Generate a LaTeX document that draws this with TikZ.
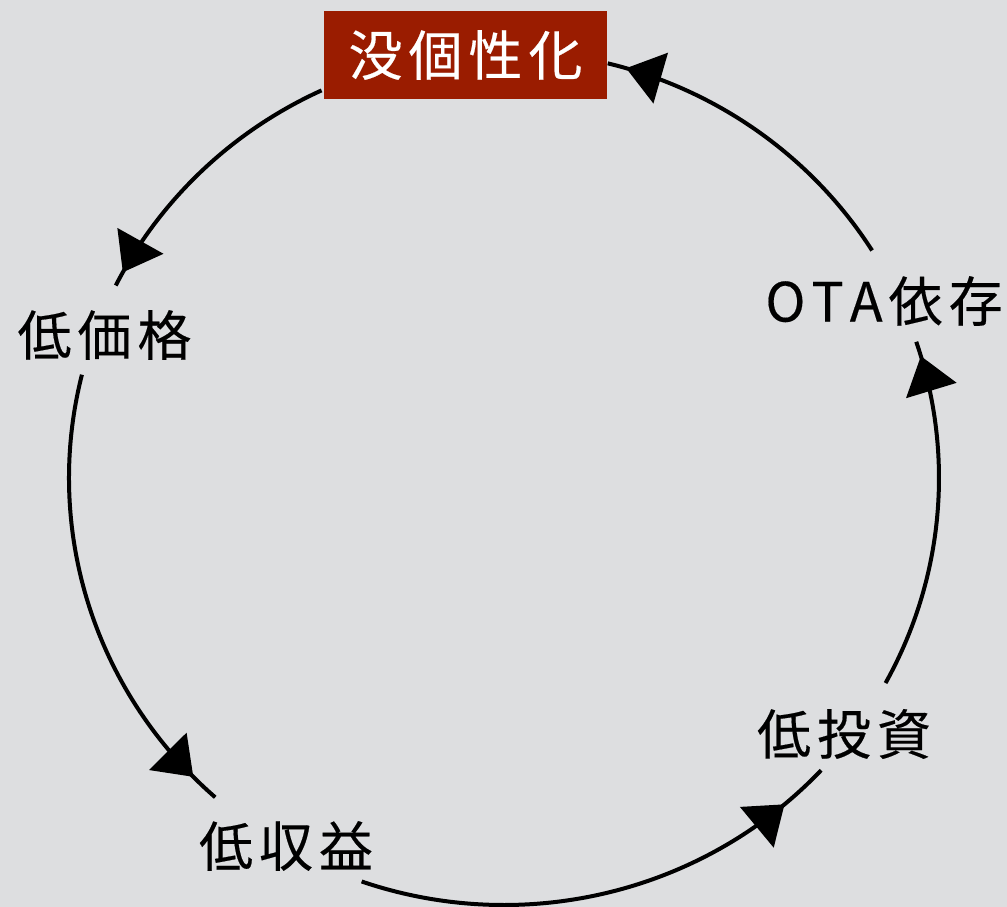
\documentclass[tikz,border=0pt]{standalone}
\usepackage{fontspec}
\setmainfont{Noto Sans CJK JP}[FakeBold=0.3]
\usetikzlibrary{arrows.meta,decorations.markings,calc}
\definecolor{bg}{RGB}{221,222,224}
\definecolor{boxred}{RGB}{154,28,0}
\newcommand\tsp{\kern6pt}
\begin{document}
\begin{tikzpicture}[x=1pt,y=-1pt,
  lbl/.style={font=\fontsize{54}{60}\selectfont, inner sep=0pt},
  conn/.style={line width=4pt, draw=black},
  arr/.style={postaction={decorate}, decoration={markings, mark=at position #1 with {\arrow{Triangle[length=36pt,width=52pt]}}}}]
\fill[bg] (0,0) rectangle (1007,907);
\useasboundingbox (0,0) rectangle (1007,907);
\coordinate (O) at (504,478);
% nodes
\node[lbl, fill=boxred, text=white, minimum width=283pt, minimum height=88pt] (n1) at (465.5,55) {没\tsp 個\tsp 性\tsp 化};
\node[lbl] (n2) at (104.5,335) {低\tsp 価\tsp 格};
\node[lbl] (n3) at (286,846) {低\tsp 収\tsp 益};
\node[lbl] (n4) at (844,734) {低\tsp 投\tsp 資};
\node[lbl] (n5) at (884,301) {O\tsp T\tsp A\tsp 依\tsp 存};
% connector end points on the ellipse
\coordinate (n1-out) at ($(O)+(245.2:435 and 427)$);
\coordinate (n2-out) at ($(O)+(194.0:435 and 427)$);
\coordinate (n3-out) at ($(O)+(109.1:435 and 427)$);
\coordinate (n4-out) at ($(O)+(28.7:435 and 427)$);
\coordinate (n5-out) at ($(O)+(-32.2:435 and 427)$);
% connectors
\draw[conn, arr=-15pt] (n1-out) arc[start angle=245.2, end angle=206.8, x radius=435, y radius=427];
\draw[conn, arr=-30pt] (n2-out) arc[start angle=194.0, end angle=131.6, x radius=435, y radius=427];
\draw[conn, arr=-50pt] (n3-out) arc[start angle=109.1, end angle=43.2, x radius=435, y radius=427];
\draw[conn, arr=-15pt] (n4-out) arc[start angle=28.7, end angle=-18.6, x radius=435, y radius=427];
\draw[conn, arr=-19pt] (n5-out) arc[start angle=-32.2, end angle=-76.2, x radius=435, y radius=427];
\end{tikzpicture}
\end{document}
